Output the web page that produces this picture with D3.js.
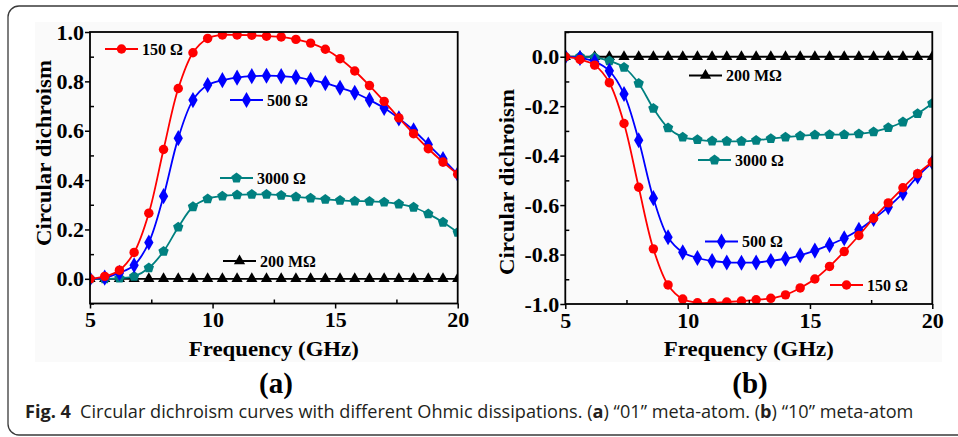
<!DOCTYPE html>
<html>
<head>
<meta charset="utf-8">
<script src="https://cdn.jsdelivr.net/npm/d3@7"></script>
<style>
  html, body { margin: 0; padding: 0; background: #ffffff; }
  svg { display: block; }
  .tick text { font-family: "Liberation Serif", "Times New Roman", serif; font-weight: bold; font-size: 22px; fill: #000; }
</style>
</head>
<body>
<svg id="fig" width="958" height="437"></svg>
<script>
// Frequency sweep (GHz)
const freq = [5.0, 5.6, 6.2, 6.8, 7.4, 8.0, 8.6, 9.2, 9.8, 10.4, 11.0, 11.6, 12.2,
              12.8, 13.4, 14.0, 14.6, 15.2, 15.8, 16.4, 17.0, 17.6, 18.2, 18.8, 19.4, 20.0];

// (a) "01" meta-atom circular dichroism
const a150 = [0.000, 0.010, 0.035, 0.107, 0.266, 0.524, 0.771, 0.916, 0.974, 0.988, 0.988, 0.987, 0.983,
              0.980, 0.970, 0.955, 0.930, 0.892, 0.842, 0.783, 0.719, 0.652, 0.588, 0.527, 0.473, 0.424];
const a500 = [0.000, 0.005, 0.024, 0.055, 0.147, 0.335, 0.570, 0.724, 0.785, 0.805, 0.815, 0.821, 0.823,
              0.821, 0.817, 0.806, 0.793, 0.774, 0.754, 0.725, 0.692, 0.650, 0.602, 0.544, 0.485, 0.424];
const a3000 = [0.000, 0.000, 0.003, 0.010, 0.044, 0.111, 0.209, 0.292, 0.324, 0.335, 0.340, 0.342, 0.342,
               0.338, 0.332, 0.327, 0.322, 0.318, 0.315, 0.314, 0.311, 0.303, 0.290, 0.263, 0.229, 0.188];
const a200M = freq.map(() => 0);

// (b) "10" meta-atom circular dichroism
const b150 = [0.000, -0.011, -0.034, -0.105, -0.270, -0.528, -0.777, -0.923, -0.980, -0.995, -0.995, -0.992, -0.988,
              -0.983, -0.977, -0.963, -0.935, -0.899, -0.848, -0.788, -0.723, -0.653, -0.591, -0.530, -0.473, -0.426];
const b500 = [0.000, -0.005, -0.020, -0.057, -0.151, -0.338, -0.572, -0.730, -0.791, -0.814, -0.826, -0.832, -0.833,
              -0.832, -0.826, -0.817, -0.803, -0.784, -0.761, -0.734, -0.700, -0.656, -0.608, -0.552, -0.484, -0.428];
const b3000 = [0.000, 0.000, -0.003, -0.017, -0.043, -0.108, -0.209, -0.288, -0.325, -0.335, -0.341, -0.342, -0.342,
               -0.338, -0.331, -0.325, -0.320, -0.316, -0.315, -0.315, -0.312, -0.304, -0.287, -0.264, -0.230, -0.189];
const b200M = freq.map(() => 0);

// Axis ticks
const xTicks = [5, 10, 15, 20];
const xMinor = [7.5, 12.5, 17.5];
const yTicksA = [0.0, 0.2, 0.4, 0.6, 0.8, 1.0];
const yMinorA = [-0.1, 0.1, 0.3, 0.5, 0.7, 0.9];
const yTicksB = [0.0, -0.2, -0.4, -0.6, -0.8, -1.0];
const yMinorB = [0.1, -0.1, -0.3, -0.5, -0.7, -0.9];

// Series labels
const seriesNames = ["150 Ω", "500 Ω", "3000 Ω", "200 MΩ"];
const seriesColors = ["#ff0000", "#0000ff", "#008080", "#000000"];
const seriesSymbols = [d3.symbolCircle, d3.symbolDiamond, "pentagon", d3.symbolTriangle];

const svg = d3.select("#fig");
const serif = '"Liberation Serif", "Times New Roman", serif';

// Outer figure frame with rounded corner
svg.append("rect")
  .attr("x", 8).attr("y", 6).attr("width", 970).attr("height", 429)
  .attr("rx", 11).attr("ry", 11)
  .attr("fill", "none").attr("stroke", "#3a3a3a").attr("stroke-width", 1.3);

// Faint artwork background
svg.append("rect")
  .attr("x", 35).attr("y", 22).attr("width", 907).attr("height", 340)
  .attr("fill", "#fafafa");

// Pentagon symbol type
const pentagon = {
  draw(ctx, size) {
    const r = Math.sqrt(size / 2.378);
    for (let i = 0; i < 5; i++) {
      const t = -Math.PI / 2 + i * 2 * Math.PI / 5;
      const px = r * Math.cos(t), py = r * Math.sin(t);
      if (i === 0) ctx.moveTo(px, py); else ctx.lineTo(px, py);
    }
    ctx.closePath();
  }
};
function symType(s) { return s === "pentagon" ? pentagon : s; }
const symSizes = [70, 75, 70, 55];

function panel(cfg) {
  const x = d3.scaleLinear().domain([5, 20]).range(cfg.xr);
  const y = d3.scaleLinear().domain(cfg.yd).range(cfg.yr);
  const g = svg.append("g");
  const clipId = "clip-" + cfg.id;
  svg.append("clipPath").attr("id", clipId).append("rect")
    .attr("x", cfg.xr[0]).attr("y", cfg.yr[1])
    .attr("width", cfg.xr[1] - cfg.xr[0]).attr("height", cfg.yr[0] - cfg.yr[1]);

  // Data curves and markers (drawn back to front)
  const line = d3.line().x((d, i) => x(freq[i])).y(d => y(d)).curve(d3.curveCatmullRom.alpha(0.5));
  const plot = g.append("g").attr("clip-path", `url(#${clipId})`);
  const order = [3, 2, 1, 0];
  order.forEach(k => {
    const vals = cfg.series[k];
    plot.append("path").datum(vals).attr("d", line)
      .attr("fill", "none").attr("stroke", seriesColors[k]).attr("stroke-width", 1.8);
    plot.selectAll(null).data(vals).enter().append("path")
      .attr("transform", (d, i) => `translate(${x(freq[i])},${y(d)})`)
      .attr("d", d3.symbol().type(symType(seriesSymbols[k])).size(symSizes[k]))
      .attr("fill", seriesColors[k]);
  });

  // Axes: major ticks outward, minor ticks inward
  g.append("g").attr("transform", `translate(0,${cfg.yr[0]})`)
    .call(d3.axisBottom(x).tickValues(xTicks).tickSize(5).tickPadding(3).tickFormat(d3.format("d")));
  g.append("g").attr("transform", `translate(0,${cfg.yr[0]})`)
    .call(d3.axisBottom(x).tickValues(xMinor).tickSize(-4).tickFormat(""));
  const yl = g.append("g").attr("transform", `translate(${cfg.xr[0]},0)`)
    .call(d3.axisLeft(y).tickValues(cfg.yTicks).tickSize(5).tickPadding(1).tickFormat(d3.format(".1f")));
  g.append("g").attr("transform", `translate(${cfg.xr[0]},0)`)
    .call(d3.axisLeft(y).tickValues(cfg.yMinor).tickSize(-4).tickFormat(""));
  g.selectAll(".domain").remove();
  g.selectAll(".tick line").attr("stroke", "#000").attr("stroke-width", 1.5);
  yl.selectAll("text").text(d => d3.format(".1f")(d).replace("−", "-"));

  // Plot frame
  g.append("rect")
    .attr("x", cfg.xr[0]).attr("y", cfg.yr[1])
    .attr("width", cfg.xr[1] - cfg.xr[0]).attr("height", cfg.yr[0] - cfg.yr[1])
    .attr("fill", "none").attr("stroke", "#000").attr("stroke-width", 1.8);

  // Axis titles
  g.append("text")
    .attr("x", (cfg.xr[0] + cfg.xr[1]) / 2).attr("y", 356)
    .attr("text-anchor", "middle")
    .attr("textLength", 170).attr("lengthAdjust", "spacingAndGlyphs")
    .style("font-family", serif).style("font-weight", "bold").style("font-size", "22px")
    .text("Frequency (GHz)");
  g.append("text")
    .attr("transform", `translate(${cfg.ytx},${cfg.yty}) rotate(-90)`)
    .attr("text-anchor", "middle")
    .attr("textLength", 186).attr("lengthAdjust", "spacingAndGlyphs")
    .style("font-family", serif).style("font-weight", "bold").style("font-size", "22px")
    .text("Circular dichroism");

  // Inline series labels
  cfg.labels.forEach(L => {
    const k = L.k;
    g.append("line").attr("x1", L.x).attr("x2", L.x + 33).attr("y1", L.y).attr("y2", L.y)
      .attr("stroke", seriesColors[k]).attr("stroke-width", 1.8);
    g.append("path").attr("transform", `translate(${L.x + 16.5},${L.y})`)
      .attr("d", d3.symbol().type(symType(seriesSymbols[k])).size(symSizes[k]))
      .attr("fill", seriesColors[k]);
    g.append("text").attr("x", L.x + 37).attr("y", L.y + 5.5)
      .style("font-family", serif).style("font-weight", "bold").style("font-size", "16px")
      .text(seriesNames[k]);
  });

  // Panel letter
  g.append("text")
    .attr("x", cfg.letterX).attr("y", 393)
    .attr("text-anchor", "middle")
    .style("font-family", serif).style("font-weight", "bold").style("font-size", "29px")
    .text(cfg.letter);
}

panel({
  id: "a", xr: [90, 457.7], yd: [-0.1, 1.0], yr: [303.5, 32],
  series: [a150, a500, a3000, a200M], yTicks: yTicksA, yMinor: yMinorA,
  ytx: 51, yty: 153, letter: "(a)", letterX: 276,
  labels: [
    { k: 0, x: 105, y: 49 },
    { k: 1, x: 230, y: 100 },
    { k: 2, x: 220, y: 178 },
    { k: 3, x: 223, y: 261 }
  ]
});

panel({
  id: "b", xr: [565.3, 932.3], yd: [-1.0, 0.1], yr: [304, 32],
  series: [b150, b500, b3000, b200M], yTicks: yTicksB, yMinor: yMinorB,
  ytx: 514, yty: 182, letter: "(b)", letterX: 750,
  labels: [
    { k: 3, x: 689, y: 75.5 },
    { k: 2, x: 698, y: 160 },
    { k: 1, x: 705, y: 241.5 },
    { k: 0, x: 830, y: 285 }
  ]
});

// Caption, set in one line and narrowed to the figure width
const capG = svg.append("g");
const cap = capG.append("text")
  .attr("x", 0).attr("y", 0)
  .style("font-family", '"Open Sans", "Noto Sans", sans-serif').style("font-size", "18.5px")
  .attr("fill", "#231f20");
cap.append("tspan").style("font-weight", "bold").text("Fig. 4");
cap.append("tspan").text("\u2002Circular dichroism curves with different Ohmic dissipations. (");
cap.append("tspan").style("font-weight", "bold").text("a");
cap.append("tspan").text(") \u201c01\u201d meta-atom. (");
cap.append("tspan").style("font-weight", "bold").text("b");
cap.append("tspan").text(") \u201c10\u201d meta-atom");
const capW = cap.node().getComputedTextLength();
capG.attr("transform", `translate(25,418) scale(${889 / capW},1)`);
</script>
</body>
</html>
